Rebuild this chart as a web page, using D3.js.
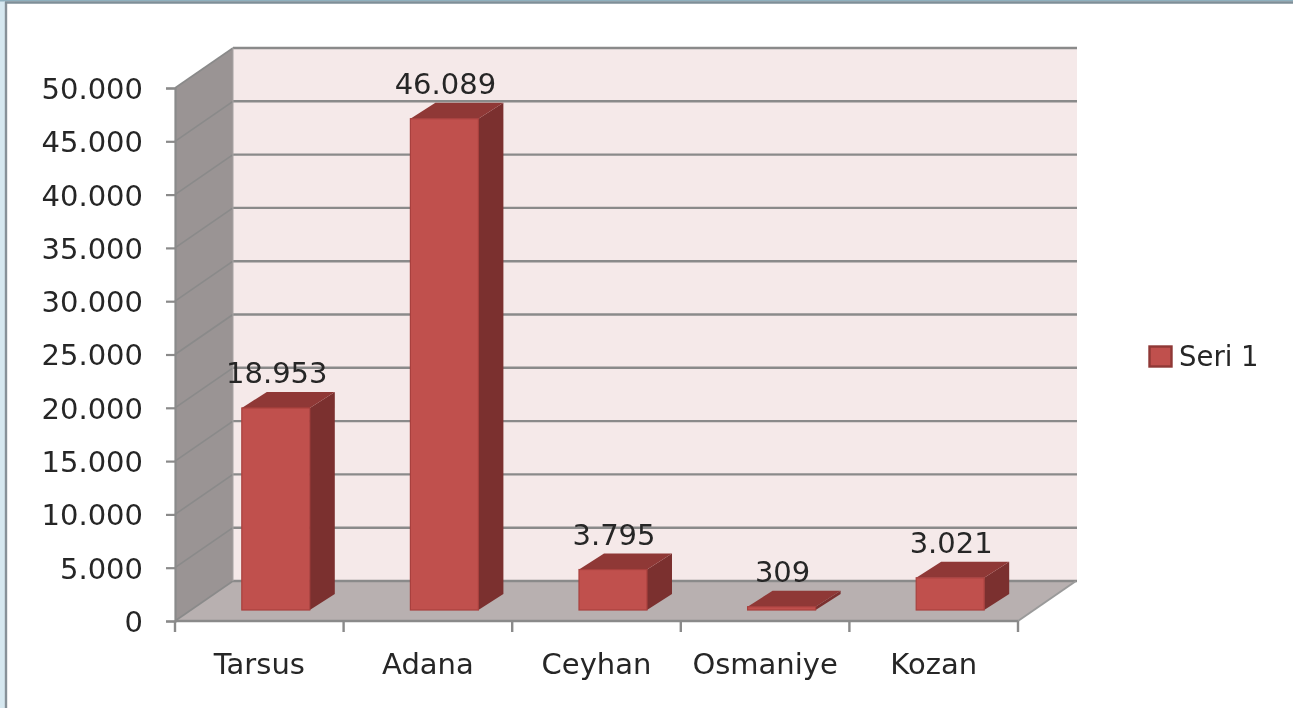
<!DOCTYPE html>
<html>
<head>
<meta charset="utf-8">
<script src="https://cdn.jsdelivr.net/npm/d3@7"></script>
<style>
html,body{margin:0;padding:0;background:#fff;overflow:hidden}
svg{display:block;filter:blur(0.5px)}
text{font-family:"DejaVu Sans",sans-serif;fill:#262626}
</style>
</head>
<body>
<svg id="chart" width="1293" height="708"></svg>
<script>
const categories = ["Tarsus","Adana","Ceyhan","Osmaniye","Kozan"];
const values = [18953,46089,3795,309,3021];
const valueLabels = ["18.953","46.089","3.795","309","3.021"];
const tickValues = [0,5000,10000,15000,20000,25000,30000,35000,40000,45000,50000];
const tickLabels = ["0","5.000","10.000","15.000","20.000","25.000","30.000","35.000","40.000","45.000","50.000"];
const seriesName = "Seri 1";

const svg = d3.select("#chart");
const x = d3.scaleBand().domain(categories).range([175,1018]);
const y = d3.scaleLinear().domain([0,50000]).range([621,88]);
const wallDx = 58, wallDy = -40;
const barDx = 25, barDy = -16;
const barW = 68;
const font = 29;
const pts = a => a.map(p=>p.join(",")).join(" ");

// outer frame
svg.append("rect").attr("x",0).attr("y",0).attr("width",1293).attr("height",708).attr("fill","#fff");
svg.append("rect").attr("x",0).attr("y",0).attr("width",5).attr("height",708).attr("fill","#d6e8f0");
svg.append("rect").attr("x",0).attr("y",0).attr("width",1293).attr("height",1.5).attr("fill","#8fb0be");
svg.append("line").attr("x1",6).attr("x2",6).attr("y1",2).attr("y2",708).attr("stroke","#879198").attr("stroke-width",2.4);
svg.append("line").attr("x1",5).attr("x2",1293).attr("y1",2.5).attr("y2",2.5).attr("stroke","#7f8f98").attr("stroke-width",2.4);

const L = x.range()[0], R = x.range()[1], y0 = y(0), yT = y(50000);
// back wall
svg.append("rect").attr("x",L+wallDx).attr("y",yT+wallDy).attr("width",R-L+1).attr("height",y0-yT).attr("fill","#f5e9e9");
// side wall
svg.append("polygon").attr("points",pts([[L,y0],[L,yT],[L+wallDx,yT+wallDy],[L+wallDx,y0+wallDy]])).attr("fill","#9a9494");
// floor
svg.append("polygon").attr("points",pts([[L,y0],[R,y0],[R+wallDx,y0+wallDy],[L+wallDx,y0+wallDy]])).attr("fill","#b8b0b0");

// gridlines
const grid = "#8a8a8a";
tickValues.forEach(v=>{
  svg.append("line").attr("stroke",grid).attr("stroke-width",1.6)
    .attr("x1",L).attr("y1",y(v)).attr("x2",L+wallDx).attr("y2",y(v)+wallDy);
  svg.append("line").attr("stroke",grid).attr("stroke-width",2.4)
    .attr("x1",L+wallDx).attr("y1",y(v)+wallDy).attr("x2",R+wallDx+1).attr("y2",y(v)+wallDy);
});
svg.append("line").attr("x1",L+wallDx).attr("x2",L+wallDx).attr("y1",yT+wallDy).attr("y2",y0+wallDy).attr("stroke","#a8a4a4").attr("stroke-width",1);
// floor right edge
svg.append("line").attr("x1",R).attr("y1",y0).attr("x2",R+wallDx).attr("y2",y0+wallDy).attr("stroke","#9a9a9a").attr("stroke-width",2);

// axes
const yAxis = d3.axisLeft(y).tickValues(tickValues).tickFormat((d,i)=>tickLabels[i]).tickSize(9).tickPadding(23);
const gy = svg.append("g").attr("transform",`translate(${L},0)`).call(yAxis);
const xTicks = categories.map(c=>x(c)).concat([R]);
svg.append("line").attr("x1",L).attr("x2",R).attr("y1",y0).attr("y2",y0).attr("stroke",grid).attr("stroke-width",2.4);
svg.selectAll(".xt").data(xTicks).join("line").attr("class","xt")
  .attr("x1",d=>d).attr("x2",d=>d).attr("y1",y0).attr("y2",y0+11).attr("stroke",grid).attr("stroke-width",2.4);
gy.select(".domain").attr("stroke",grid).attr("stroke-width",2.2);
gy.selectAll(".tick line").attr("stroke",grid).attr("stroke-width",2.2);
gy.selectAll(".tick text").attr("font-size",font).attr("dy","0.36em").style("fill","#262626");
gy.attr("font-family",null);

svg.selectAll(".cat").data(categories).join("text").attr("class","cat")
  .attr("x",d=>x(d)+x.bandwidth()/2).attr("y",674).attr("text-anchor","middle").attr("font-size",font).text(d=>d);

// bars
const base = y(0)-11;
const h = d3.scaleLinear().domain([0,50000]).range([0,y0-yT]);
const bars = svg.selectAll(".bar").data(values).join("g").attr("class","bar");
const bx = (d,i)=>x(categories[i])+x.bandwidth()/2+16.5-barW/2;
bars.append("polygon").attr("fill","#7b302f").attr("points",(d,i)=>{
  const l=bx(d,i)+barW, t=base-h(d);
  return pts([[l,base],[l,t],[l+barDx,t+barDy],[l+barDx,base+barDy]]);
});
bars.append("polygon").attr("fill","#8f3836").attr("points",(d,i)=>{
  const l=bx(d,i), t=base-h(d);
  return pts([[l,t],[l+barW,t],[l+barW+barDx,t+barDy],[l+barDx,t+barDy]]);
});
bars.append("rect").attr("fill","#c0504d").attr("stroke","#a8403e").attr("stroke-width",1.2)
  .attr("x",bx).attr("y",d=>base-h(d)).attr("width",barW).attr("height",d=>h(d));
bars.append("text").attr("text-anchor","middle").attr("font-size",font)
  .attr("x",(d,i)=>bx(d,i)+barW/2+1).attr("y",d=>base-h(d)-25).text((d,i)=>valueLabels[i]);

// legend
svg.append("rect").attr("x",1149.5).attr("y",346.5).attr("width",22).attr("height",20).attr("fill","#c0504d").attr("stroke","#8f3836").attr("stroke-width",2.4);
svg.append("text").attr("x",1179).attr("y",366).attr("font-size",27.5).text(seriesName);
</script>
</body>
</html>
